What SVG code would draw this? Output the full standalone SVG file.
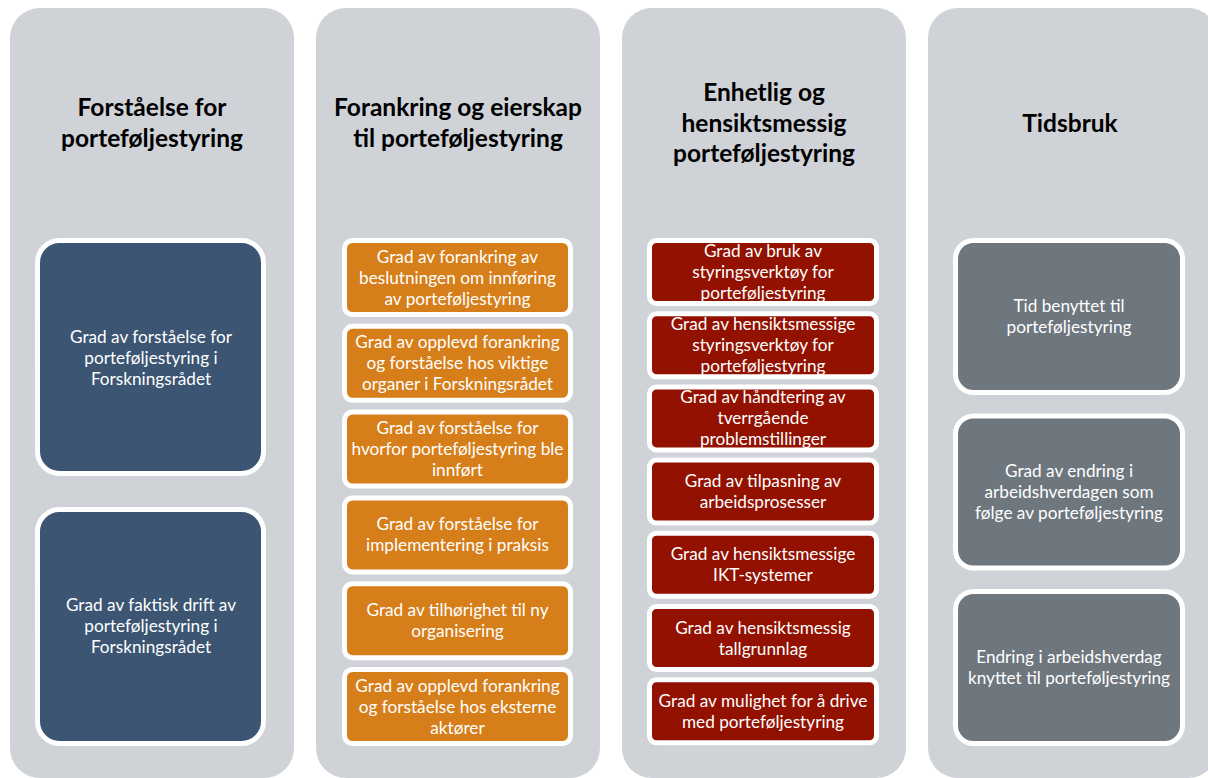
<svg xmlns="http://www.w3.org/2000/svg" width="1208" height="778" viewBox="0 0 1208 778">
<style>
.col{fill:#CFD2D6}
.n{stroke:#FFFFFF;stroke-width:5}
.blue{fill:#3B5573}
.orange{fill:#D67E1A}
.red{fill:#921100}
.gray{fill:#6E767E}
.h{font-family:Lato,"Liberation Sans",sans-serif;font-weight:bold;font-size:24.5px;fill:#000;text-anchor:middle}
.t{font-family:Lato,"Liberation Sans",sans-serif;font-size:17.2px;fill:#FFFFFF;text-anchor:middle}
</style>
<rect width="1208" height="778" fill="#FFFFFF"/>
<g id="col1">
<rect class="col" x="10" y="8" width="284" height="770" rx="30"/>
<text class="h"><tspan x="152" y="116">Forståelse for</tspan><tspan x="152" y="147">porteføljestyring</tspan></text>
</g>
<g id="col2">
<rect class="col" x="316" y="8" width="284" height="770" rx="30"/>
<text class="h"><tspan x="458" y="116">Forankring og eierskap</tspan><tspan x="458" y="147">til porteføljestyring</tspan></text>
</g>
<g id="col3">
<rect class="col" x="622" y="8" width="284" height="770" rx="30"/>
<text class="h"><tspan x="764" y="101">Enhetlig og</tspan><tspan x="764" y="132">hensiktsmessig</tspan><tspan x="764" y="162">porteføljestyring</tspan></text>
</g>
<g id="col4">
<rect class="col" x="928" y="8" width="290" height="770" rx="30"/>
<text class="h"><tspan x="1070" y="132">Tidsbruk</tspan></text>
</g>

<g id="n1a"><rect class="n blue" x="37.5" y="240.5" width="226" height="233" rx="22"/>
<text class="t"><tspan x="151" y="343">Grad av forståelse for</tspan><tspan x="151" y="364">porteføljestyring i</tspan><tspan x="151" y="385">Forskningsrådet</tspan></text></g>
<g id="n1b"><rect class="n blue" x="37.5" y="509.5" width="226" height="234" rx="22"/>
<text class="t"><tspan x="151" y="611">Grad av faktisk drift av</tspan><tspan x="151" y="632">porteføljestyring i</tspan><tspan x="151" y="653">Forskningsrådet</tspan></text></g>

<g id="n2a"><rect class="n orange" x="344.5" y="240.5" width="226" height="74" rx="8"/>
<text class="t"><tspan x="457.5" y="262.5">Grad av forankring av</tspan><tspan x="457.5" y="283.5">beslutningen om innføring</tspan><tspan x="457.5" y="304.5">av porteføljestyring</tspan></text></g>
<g id="n2b"><rect class="n orange" x="344.5" y="326.3" width="226" height="74" rx="8"/>
<text class="t"><tspan x="457.5" y="348.3">Grad av opplevd forankring</tspan><tspan x="457.5" y="369.3">og forståelse hos viktige</tspan><tspan x="457.5" y="390.3">organer i Forskningsrådet</tspan></text></g>
<g id="n2c"><rect class="n orange" x="344.5" y="412.1" width="226" height="74" rx="8"/>
<text class="t"><tspan x="457.5" y="434">Grad av forståelse for</tspan><tspan x="457.5" y="455">hvorfor porteføljestyring ble</tspan><tspan x="457.5" y="476">innført</tspan></text></g>
<g id="n2d"><rect class="n orange" x="344.5" y="497.9" width="226" height="74" rx="8"/>
<text class="t"><tspan x="457.5" y="530.4">Grad av forståelse for</tspan><tspan x="457.5" y="551.4">implementering i praksis</tspan></text></g>
<g id="n2e"><rect class="n orange" x="344.5" y="583.7" width="226" height="74" rx="8"/>
<text class="t"><tspan x="457.5" y="616.2">Grad av tilhørighet til ny</tspan><tspan x="457.5" y="637.2">organisering</tspan></text></g>
<g id="n2f"><rect class="n orange" x="344.5" y="669.5" width="226" height="74" rx="8"/>
<text class="t"><tspan x="457.5" y="691.5">Grad av opplevd forankring</tspan><tspan x="457.5" y="712.5">og forståelse hos eksterne</tspan><tspan x="457.5" y="733.5">aktører</tspan></text></g>

<g id="n3a"><rect class="n red" x="649.5" y="240.5" width="227" height="63" rx="7"/>
<text class="t"><tspan x="763" y="257">Grad av bruk av</tspan><tspan x="763" y="278">styringsverktøy for</tspan><tspan x="763" y="299">porteføljestyring</tspan></text></g>
<g id="n3b"><rect class="n red" x="649.5" y="313.7" width="227" height="63" rx="7"/>
<text class="t"><tspan x="763" y="330.2">Grad av hensiktsmessige</tspan><tspan x="763" y="351.2">styringsverktøy for</tspan><tspan x="763" y="372.2">porteføljestyring</tspan></text></g>
<g id="n3c"><rect class="n red" x="649.5" y="386.9" width="227" height="63" rx="7"/>
<text class="t"><tspan x="763" y="403.4">Grad av håndtering av</tspan><tspan x="763" y="424.4">tverrgående</tspan><tspan x="763" y="445.4">problemstillinger</tspan></text></g>
<g id="n3d"><rect class="n red" x="649.5" y="460.1" width="227" height="63" rx="7"/>
<text class="t"><tspan x="763" y="487.1">Grad av tilpasning av</tspan><tspan x="763" y="508.1">arbeidsprosesser</tspan></text></g>
<g id="n3e"><rect class="n red" x="649.5" y="533.3" width="227" height="63" rx="7"/>
<text class="t"><tspan x="763" y="560.3">Grad av hensiktsmessige</tspan><tspan x="763" y="581.3">IKT-systemer</tspan></text></g>
<g id="n3f"><rect class="n red" x="649.5" y="606.5" width="227" height="63" rx="7"/>
<text class="t"><tspan x="763" y="633.5">Grad av hensiktsmessig</tspan><tspan x="763" y="654.5">tallgrunnlag</tspan></text></g>
<g id="n3g"><rect class="n red" x="649.5" y="679.7" width="227" height="63" rx="7"/>
<text class="t"><tspan x="763" y="706.7">Grad av mulighet for å drive</tspan><tspan x="763" y="727.7">med porteføljestyring</tspan></text></g>

<g id="n4a"><rect class="n gray" x="955.5" y="240.5" width="227" height="152" rx="18"/>
<text class="t"><tspan x="1069" y="312">Tid benyttet til</tspan><tspan x="1069" y="333">porteføljestyring</tspan></text></g>
<g id="n4b"><rect class="n gray" x="955.5" y="416" width="227" height="152" rx="18"/>
<text class="t"><tspan x="1069" y="476.5">Grad av endring i</tspan><tspan x="1069" y="497.5">arbeidshverdagen som</tspan><tspan x="1069" y="518.5">følge av porteføljestyring</tspan></text></g>
<g id="n4c"><rect class="n gray" x="955.5" y="591.5" width="227" height="152" rx="18"/>
<text class="t"><tspan x="1069" y="662.5">Endring i arbeidshverdag</tspan><tspan x="1069" y="683.5">knyttet til porteføljestyring</tspan></text></g>
</svg>
